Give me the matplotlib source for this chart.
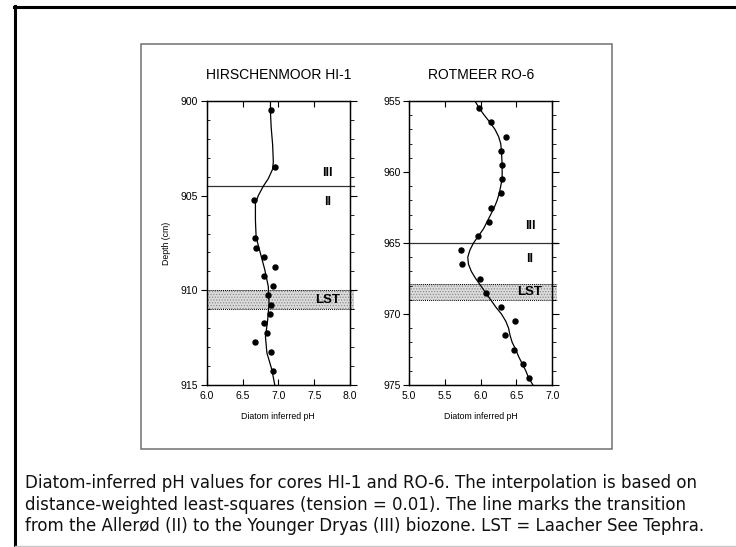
import numpy as np
import matplotlib.pyplot as plt
from matplotlib.lines import Line2D
from matplotlib.patches import Rectangle
from matplotlib.ticker import MultipleLocator

W, H = 736, 547

# HI-1 (Hirschenmoor): sample depths (cm) and diatom inferred pH
hi_depth = [900.5, 903.5, 905.25, 907.25, 907.75, 908.25, 908.75, 909.25, 909.75,
            910.25, 910.75, 911.25, 911.75, 912.25, 912.75, 913.25, 914.25]
hi_ph = [6.90, 6.95, 6.66, 6.67, 6.69, 6.80, 6.96, 6.80, 6.92,
         6.86, 6.90, 6.89, 6.80, 6.84, 6.67, 6.90, 6.92]
# DWLS curve for HI-1
hi_curve_depth = [900.0, 900.6, 901.4, 902.3, 903.2, 903.6, 904.1, 904.5, 905.0, 905.4,
                  906.3, 907.2, 908.05, 908.9, 909.8, 910.7, 911.6, 912.45, 913.3, 914.2, 915.0]
hi_curve_ph = [6.89, 6.89, 6.90, 6.92, 6.93, 6.92, 6.86, 6.79, 6.72, 6.68,
               6.68, 6.69, 6.75, 6.81, 6.86, 6.87, 6.85, 6.82, 6.84, 6.91, 6.95]

# RO-6 (Rotmeer)
ro_depth = [955.5, 956.5, 957.5, 958.5, 959.5, 960.5, 961.5, 962.5, 963.5, 964.5,
            965.5, 966.5, 967.5, 968.5, 969.5, 970.5, 971.5, 972.5, 973.5, 974.5]
ro_ph = [5.97, 6.15, 6.36, 6.29, 6.30, 6.30, 6.28, 6.14, 6.12, 5.96,
         5.73, 5.74, 5.99, 6.07, 6.28, 6.48, 6.34, 6.47, 6.59, 6.67]
ro_curve_depth = [955.0, 955.5, 956.0, 956.5, 957.0, 957.5, 958.0, 958.5, 959.5, 960.5,
                  961.0, 961.5, 962.0, 962.5, 963.0, 963.5, 964.0, 964.5, 965.0, 965.5,
                  966.0, 966.5, 967.0, 967.5, 968.0, 968.5, 969.0, 969.5, 970.0, 970.5,
                  971.0, 971.5, 972.0, 972.5, 973.0, 973.5, 974.0, 974.5, 975.0]
ro_curve_ph = [5.92, 5.98, 6.05, 6.13, 6.20, 6.25, 6.28, 6.29, 6.30, 6.30,
               6.28, 6.26, 6.23, 6.19, 6.14, 6.09, 6.04, 5.97, 5.90, 5.85,
               5.82, 5.83, 5.87, 5.93, 6.00, 6.07, 6.14, 6.21, 6.29, 6.35,
               6.39, 6.41, 6.44, 6.49, 6.53, 6.58, 6.63, 6.67, 6.73]

panels = [
    dict(title='HIRSCHENMOOR HI-1', depth=hi_depth, ph=hi_ph,
         cdepth=hi_curve_depth, cph=hi_curve_ph,
         xlim=(6.0, 8.0), ylim=(900, 915), zone=904.5, lst=(910.0, 911.0),
         left_px=206.7, zone_lbl=(172.7, 202.0), lst_y=300.0, inner_minor=False),
    dict(title='ROTMEER RO-6', depth=ro_depth, ph=ro_ph,
         cdepth=ro_curve_depth, cph=ro_curve_ph,
         xlim=(5.0, 7.0), ylim=(955, 975), zone=965.0, lst=(967.9, 969.0),
         left_px=409.0, zone_lbl=(225.7, 259.0), lst_y=292.0, inner_minor=True),
]

plt.rcParams['font.family'] = ['Liberation Sans', 'DejaVu Sans']
plt.rcParams['hatch.linewidth'] = 0.6

fig = plt.figure(figsize=(W / 100, H / 100), dpi=100)
fig.patch.set_facecolor('white')


def fx(px):
    return px / W


def fy(py):
    return 1 - py / H


# slide frame
fig.add_artist(Line2D([fx(14), fx(736)], [fy(6.5), fy(6.5)], color='black', lw=2.2))
fig.add_artist(Line2D([fx(15), fx(15)], [fy(6), fy(547)], color='black', lw=2.2))
fig.add_artist(Line2D([fx(15), fx(736)], [fy(545.5), fy(545.5)], color='#c8c8c8', lw=1.0))
# box around the figure panels
fig.add_artist(Rectangle((fx(141), fy(449)), fx(612) - fx(141), fy(44) - fy(449),
                         fill=False, edgecolor='#707070', lw=1.1))

ax_w, top_px, bot_px = 143.3, 101.0, 385.0
for p in panels:
    ax = fig.add_axes([fx(p['left_px']), fy(bot_px), ax_w / W, (bot_px - top_px) / H])
    x0, x1 = p['xlim']
    ax.set_xlim(x0, x1)
    ax.set_ylim(p['ylim'][1], p['ylim'][0])

    # LST band with dotted edges
    ax.axhspan(p['lst'][0], p['lst'][1], xmin=0, xmax=1.03, facecolor='#dcdcdc',
               edgecolor='#8a8a8a', hatch='......', lw=0, clip_on=False, zorder=1)
    for d in p['lst']:
        ax.plot([x0, x1 + 0.06], [d, d], ls=(0, (1, 1)), color='black', lw=0.7,
                clip_on=False, zorder=2)
    # Allerød / Younger Dryas boundary
    ax.plot([x0, x1 + 0.06], [p['zone'], p['zone']], color='#333333', lw=0.9,
            clip_on=False, zorder=2)

    ax.plot(p['cph'], p['cdepth'], color='black', lw=0.9, zorder=3)
    ax.plot(p['ph'], p['depth'], 'o', color='black', ms=3.6, zorder=4)

    ax.set_title(p['title'], fontsize=10, pad=16)

    ax.xaxis.set_major_locator(MultipleLocator(0.5))
    ax.xaxis.set_major_formatter(plt.FuncFormatter(lambda v, _: f'{v:.1f}'))
    ax.tick_params(axis='x', which='major', direction='in', top=True, bottom=True,
                   length=4, width=0.8, labelsize=7.5, pad=4)
    ax.yaxis.set_major_locator(MultipleLocator(5))
    ax.yaxis.set_minor_locator(MultipleLocator(1))
    ax.tick_params(axis='y', which='major', direction='out', left=True, right=False,
                   length=4, width=0.8, labelsize=7.5, pad=2)
    ax.tick_params(axis='y', which='minor', direction='in', left=p['inner_minor'],
                   right=False, length=2, width=0.6)

    # outward ticks along the right spine
    twin = ax.twinx()
    twin.set_ylim(ax.get_ylim())
    twin.yaxis.set_major_locator(MultipleLocator(5))
    twin.yaxis.set_minor_locator(MultipleLocator(1))
    twin.tick_params(axis='y', which='major', direction='out', length=5, width=0.8,
                     labelright=False)
    twin.tick_params(axis='y', which='minor', direction='out', length=3, width=0.6)

    for a in (ax, twin):
        for s in a.spines.values():
            s.set_linewidth(0.9)

    ax.set_xlabel('Diatom inferred pH', fontsize=6.3, labelpad=8)

    rx = fx(p['left_px'] + 121)
    fig.text(rx, fy(p['zone_lbl'][0]), 'III', fontsize=9, fontweight='bold',
             ha='center', va='center')
    fig.text(rx, fy(p['zone_lbl'][1]), 'II', fontsize=9, fontweight='bold',
             ha='center', va='center')
    fig.text(rx, fy(p['lst_y']), 'LST', fontsize=9.5, fontweight='bold',
             ha='center', va='center')

fig.text(fx(166.5), fy(243), 'Depth (cm)', rotation=90, fontsize=6.3,
         ha='center', va='center')

caption = ['Diatom-inferred pH values for cores HI-1 and RO-6. The interpolation is based on',
           'distance-weighted least-squares (tension = 0.01). The line marks the transition',
           'from the Allerød (II) to the Younger Dryas (III) biozone. LST = Laacher See Tephra.']
for i, line in enumerate(caption):
    fig.text(fx(25), fy(483 + i * 21.7), line, fontsize=12, family='DejaVu Sans',
             ha='left', va='center', color='#111111')

fig.savefig('out.png', dpi=100, facecolor='white')
